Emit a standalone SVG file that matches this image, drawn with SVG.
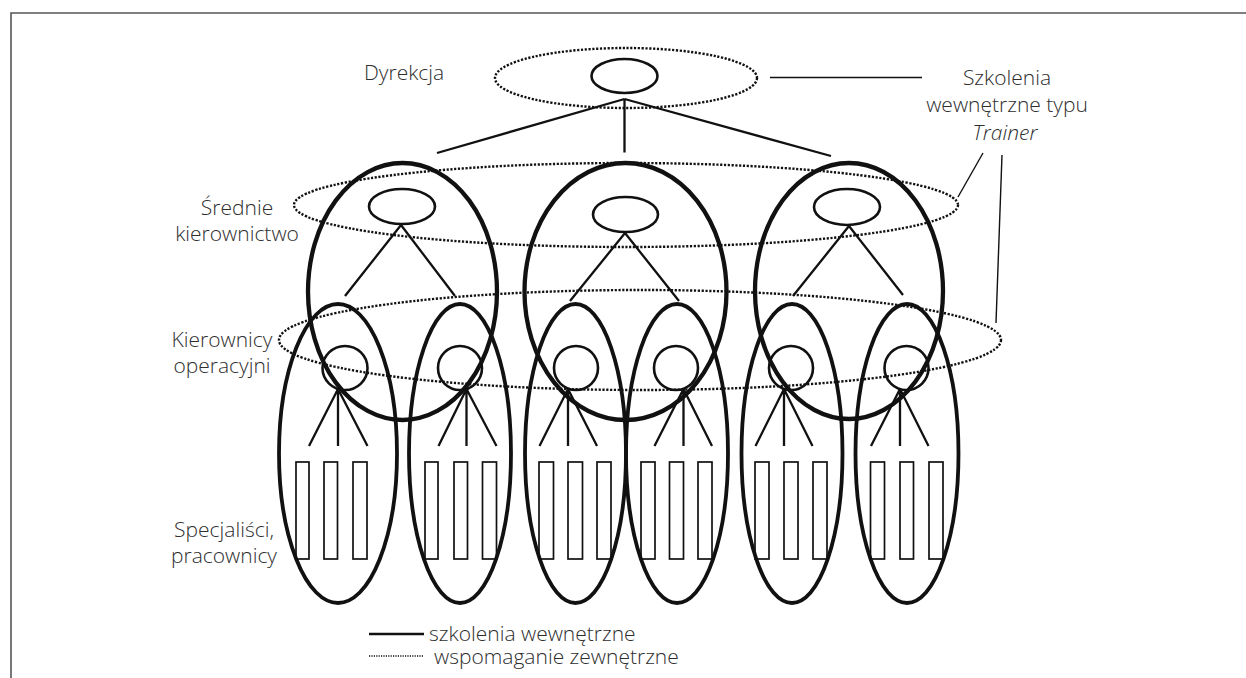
<svg xmlns="http://www.w3.org/2000/svg" width="1246" height="678" viewBox="0 0 1246 678">
  <defs>
    <style>
      .frame { fill: none; stroke: #555; stroke-width: 1.6; }
      .lbl { font-family: "Open Sans", "Noto Sans", "Liberation Sans", sans-serif; font-size: 21px; font-weight: 300; fill: #2e2e2e; }
      .mid { text-anchor: middle; }
      .dots { fill: none; stroke: #111; stroke-width: 2.4; stroke-dasharray: 2.2 1.6; }
      .big { fill: none; stroke: #111; stroke-width: 4.3; }
      .tall { fill: none; stroke: #111; stroke-width: 3.8; }
      .head { fill: none; stroke: #111; stroke-width: 2.6; }
      .ln { fill: none; stroke: #111; stroke-width: 2.3; }
      .thin { fill: none; stroke: #111; stroke-width: 1.4; }
      .box { fill: none; stroke: #111; stroke-width: 1.7; }
    </style>
  </defs>

  <rect width="1246" height="678" fill="#fff"/>
  <path class="frame" d="M11,678 V13 H1246"/>

  <!-- training levels (external support) -->
  <g id="levels">
    <ellipse class="dots" cx="626" cy="78" rx="131" ry="30"/>
    <ellipse class="dots" cx="626" cy="205" rx="332" ry="42"/>
    <ellipse class="dots" cx="640" cy="340" rx="361" ry="50"/>
  </g>

  <!-- board -->
  <g id="dyrekcja">
    <ellipse class="head" cx="624.5" cy="76" rx="33" ry="17"/>
  </g>

  <!-- middle management units -->
  <g id="srednie-1">
    <ellipse class="big" cx="402.5" cy="291.5" rx="94.5" ry="128.5"/>
    <ellipse class="head" cx="402" cy="206.5" rx="33" ry="17.5"/>
  </g>
  <g id="srednie-2">
    <ellipse class="big" cx="625.5" cy="291.5" rx="101" ry="128.5"/>
    <ellipse class="head" cx="625.5" cy="214.5" rx="32.5" ry="17.5"/>
  </g>
  <g id="srednie-3">
    <ellipse class="big" cx="849" cy="291" rx="94" ry="128"/>
    <ellipse class="head" cx="847" cy="207" rx="33" ry="18"/>
  </g>

  <!-- operational teams -->
  <g id="zespol-1">
    <ellipse class="tall" cx="338" cy="453.5" rx="59" ry="149.5"/>
    <ellipse class="head" cx="345" cy="368" rx="22.5" ry="22"/>
    <rect class="box" x="296" y="462" width="13" height="97"/>
    <rect class="box" x="324" y="462" width="13.5" height="97"/>
    <rect class="box" x="353" y="462" width="14" height="97"/>
  </g>
  <g id="zespol-2">
    <ellipse class="tall" cx="460" cy="453.5" rx="51" ry="149.5"/>
    <ellipse class="head" cx="460" cy="368" rx="22" ry="22"/>
    <rect class="box" x="425" y="462" width="13" height="97"/>
    <rect class="box" x="454" y="462" width="13.5" height="97"/>
    <rect class="box" x="482.5" y="462" width="14" height="97"/>
  </g>
  <g id="zespol-3">
    <ellipse class="tall" cx="575.5" cy="453.5" rx="50.5" ry="149.5"/>
    <ellipse class="head" cx="576" cy="368" rx="22" ry="22"/>
    <rect class="box" x="539" y="462" width="14.5" height="97"/>
    <rect class="box" x="568" y="462" width="14.5" height="97"/>
    <rect class="box" x="597" y="462" width="14" height="97"/>
  </g>
  <g id="zespol-4">
    <ellipse class="tall" cx="677" cy="453.5" rx="51" ry="149.5"/>
    <ellipse class="head" cx="676" cy="368" rx="22" ry="22"/>
    <rect class="box" x="641" y="462" width="14" height="97"/>
    <rect class="box" x="669.5" y="462" width="14" height="97"/>
    <rect class="box" x="698" y="462" width="14" height="97"/>
  </g>
  <g id="zespol-5">
    <ellipse class="tall" cx="792" cy="453.5" rx="50.5" ry="149.5"/>
    <ellipse class="head" cx="791" cy="368" rx="22" ry="22"/>
    <rect class="box" x="755" y="462" width="14" height="97"/>
    <rect class="box" x="784" y="462" width="14" height="97"/>
    <rect class="box" x="813" y="462" width="14" height="97"/>
  </g>
  <g id="zespol-6">
    <ellipse class="tall" cx="907" cy="453.5" rx="51.5" ry="149.5"/>
    <ellipse class="head" cx="906.5" cy="368" rx="22" ry="22"/>
    <rect class="box" x="870.5" y="462" width="14" height="97"/>
    <rect class="box" x="900" y="462" width="13.5" height="97"/>
    <rect class="box" x="929" y="462" width="14" height="97"/>
  </g>

  <!-- reporting lines -->
  <g id="connectors">
    <path class="ln" d="M624.5,99 L437,153 M624.5,99 V152.5 M624.5,99 L831,156"/>
    <path class="ln" d="M401,225 L345,296 M401,225 L455,296"/>
    <path class="ln" d="M625,233 L570,301 M625,233 L679,301"/>
    <path class="ln" d="M849,226 L793,296 M849,226 L903,295"/>
    <path class="ln" d="M338,389 L309,446 M338,389 V446 M338,389 L367.5,446"/>
    <path class="ln" d="M466.5,389 L438.5,446 M466.5,389 V446 M466.5,389 L496.5,446"/>
    <path class="ln" d="M568,389 L539.5,446 M568,389 V446 M568,389 L597,446"/>
    <path class="ln" d="M683.5,389 L654.5,446 M683.5,389 V446 M683.5,389 L712,446"/>
    <path class="ln" d="M784,389 L755.5,446 M784,389 V446 M784,389 L812.5,446"/>
    <path class="ln" d="M900,389 L871,446 M900,389 V446 M900,389 L928.5,446"/>
    <path class="thin" d="M770,77.5 H922"/>
    <path class="thin" d="M983,153 L958,197"/>
    <path class="thin" d="M1002,155 L996,323"/>
  </g>

  <!-- level names -->
  <g id="labels">
    <text class="lbl" x="364" y="80">Dyrekcja</text>
    <text class="lbl mid" x="1007" y="85">Szkolenia</text>
    <text class="lbl mid" x="1007" y="112">wewnętrzne typu</text>
    <text class="lbl mid" x="1005" y="140" font-style="italic">Trainer</text>
    <text class="lbl mid" x="237" y="215">Średnie</text>
    <text class="lbl mid" x="237" y="241">kierownictwo</text>
    <text class="lbl mid" x="222" y="347">Kierownicy</text>
    <text class="lbl mid" x="222" y="373">operacyjni</text>
    <text class="lbl mid" x="224" y="537">Specjaliści,</text>
    <text class="lbl mid" x="224" y="563">pracownicy</text>
  </g>

  <!-- key -->
  <g id="legend">
    <path d="M369,634 H424" fill="none" stroke="#111" stroke-width="2.4"/>
    <path d="M369,656 H424" fill="none" stroke="#111" stroke-width="1.3" stroke-dasharray="1.2 1.2"/>
    <text class="lbl" x="429" y="641">szkolenia wewnętrzne</text>
    <text class="lbl" x="434" y="664">wspomaganie zewnętrzne</text>
  </g>
</svg>
